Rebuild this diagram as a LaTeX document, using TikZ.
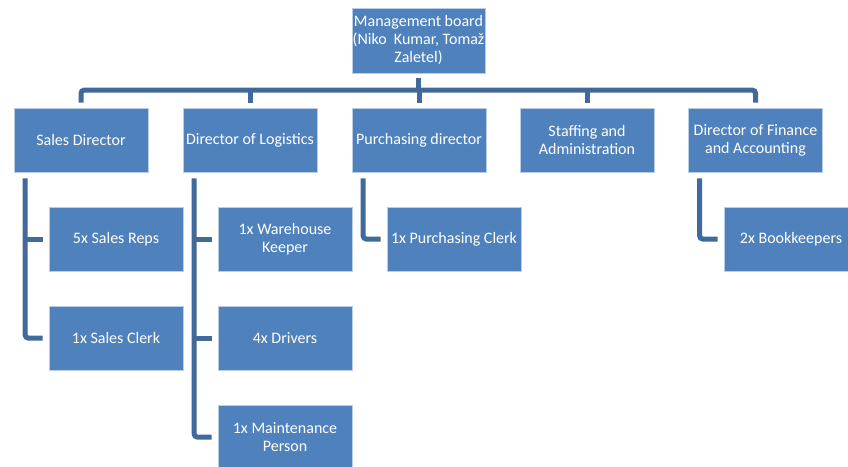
\documentclass[tikz,border=0pt]{standalone}
\usepackage{fontspec}
\setmainfont{Carlito}
\usetikzlibrary{calc}
\definecolor{boxfill}{HTML}{4F81BD}
\definecolor{boxline}{HTML}{B9CDE5}
\definecolor{connc}{HTML}{41699C}
\begin{document}
\begin{tikzpicture}[x=1pt,y=-1pt,
  orgbox/.style={rectangle, fill=boxfill, draw=boxline, line width=0.6pt,
    minimum width=134pt, minimum height=64pt, inner sep=0pt, align=center,
    text=white, font=\fontsize{16pt}{18pt}\selectfont},
  conn/.style={draw=connc, line width=5pt},
]
\useasboundingbox (0,0) rectangle (848,466);
% nodes
\node[orgbox, minimum width=133pt, minimum height=65pt] (board) at (418.5,40.5) {Management board\\(Niko\ \ Kumar, Tomaž\\Zaletel)};
\node[orgbox] (sales) at (81,140) {Sales Director};
\node[orgbox] (log) at (250,140) {Director of Logistics};
\node[orgbox] (purch) at (419,140) {Purchasing director};
\node[orgbox] (staff) at (587,140) {Staffing and\\Administration};
\node[orgbox] (fin) at (755.5,140) {Director of Finance\\and Accounting};
\node[orgbox] (reps) at (116,239) {5x Sales Reps};
\node[orgbox] (clerk) at (116,338) {1x Sales Clerk};
\node[orgbox] (ware) at (285,239) {1x Warehouse\\Keeper};
\node[orgbox] (drv) at (285,338) {4x Drivers};
\node[orgbox] (maint) at (285,437) {1x Maintenance\\Person};
\node[orgbox] (pclerk) at (454,239) {1x Purchasing Clerk};
\node[orgbox] (book) at (791,239) {2x Bookkeepers};
% top-level connectors
\draw[conn, rounded corners=3pt] ($(sales.north)+(0,-5)$) |- ($(fin.north)+(0,-17.5)$) -- ($(fin.north)+(0,-5)$);
\draw[conn] ($(board.south)+(0,5)$) -- ($(board.south)+(0,19)$);
\draw[conn] ($(log.north)+(0,-5)$) -- ($(log.north)+(0,-17.5)$);
\draw[conn] ($(purch.north)+(0,-5)$) -- ($(purch.north)+(0,-17.5)$);
\draw[conn] ($(staff.north)+(0,-5)$) -- ($(staff.north)+(0,-17.5)$);
% child connectors
\draw[conn, rounded corners=3pt] ($(sales.south west)+(11.5,6)$) |- ($(clerk.west)+(-6,0)$);
\draw[conn] ($(reps.west)+(-6,0)$) -- ($(reps.west)+(-24,0)$);
\draw[conn, rounded corners=3pt] ($(log.south west)+(11.5,6)$) |- ($(maint.west)+(-6,0)$);
\draw[conn] ($(ware.west)+(-6,0)$) -- ($(ware.west)+(-24,0)$);
\draw[conn] ($(drv.west)+(-6,0)$) -- ($(drv.west)+(-24,0)$);
\draw[conn, rounded corners=3pt] ($(purch.south west)+(11.5,6)$) |- ($(pclerk.west)+(-6,0)$);
\draw[conn, rounded corners=3pt] ($(fin.south west)+(11.5,6)$) |- ($(book.west)+(-6,0)$);
\end{tikzpicture}
\end{document}
